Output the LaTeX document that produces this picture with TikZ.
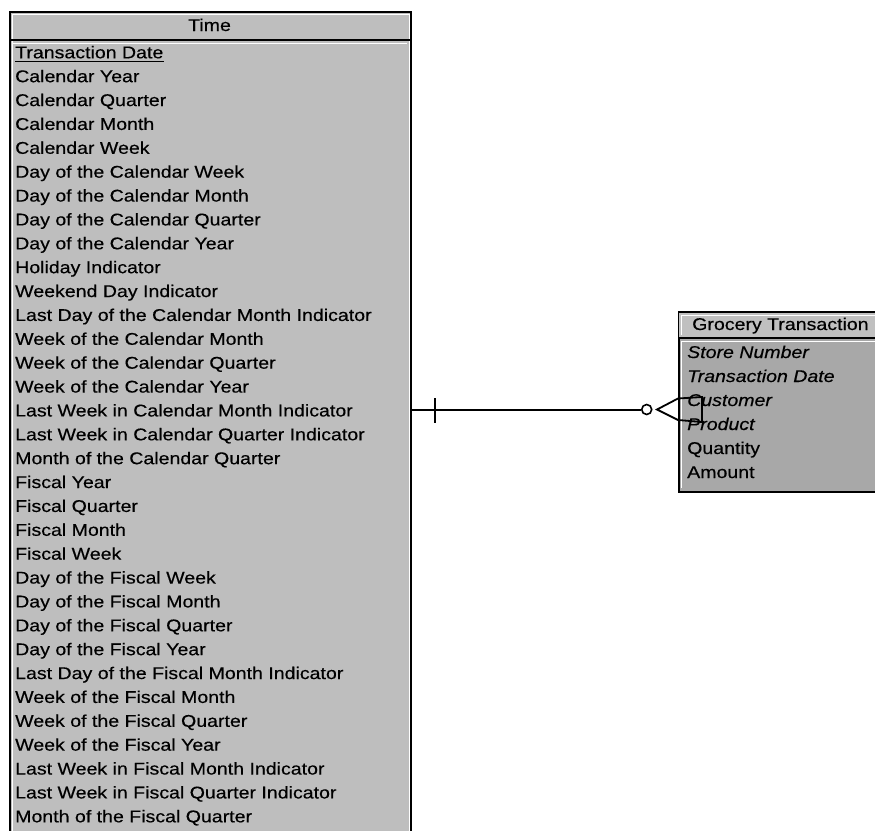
\documentclass[tikz,border=0pt]{standalone}
\usepackage{fontspec}
\setmainfont[FakeStretch=1.15,FakeBold=0.4]{Liberation Sans}
\definecolor{timefill}{RGB}{190,190,190}
\definecolor{headfill}{RGB}{192,192,192}
\definecolor{bodyfill}{RGB}{168,168,168}
\begin{document}
\begin{tikzpicture}[x=1pt,y=-1pt,
  entity/.style={draw=black, line width=2pt, rectangle, inner sep=0pt, anchor=north west},
  field/.style={anchor=base west, inner sep=0pt, font=\fontsize{17}{17}\selectfont},
  keyfield/.style={field, font=\fontsize{17}{17}\selectfont\itshape},
  title/.style={anchor=base, inner sep=0pt, font=\fontsize{17}{17}\selectfont},
  rel/.style={draw=black, line width=2pt},
  inner/.style={draw=white, line width=1pt}]
\useasboundingbox (0,0) rectangle (875,830);
\begin{scope}
\clip (0,0) rectangle (875,830);

% ---- Time entity (runs past the lower edge) ----
\node[entity, fill=timefill, minimum width=401pt, minimum height=900pt] (time) at (9,11) {};
\draw[inner] ([shift={(3,3)}]time.north west) rectangle ([shift={(-3,-3)}]time.south east);
\draw[line width=2.5pt] (9,40) -- (410,40);
\draw[inner] (12,43.5) -- (407,43.5);
\node[title] (timetitle) at (209.5,31) {Time};

\node[field] (td) at (15,58.3) {Transaction Date};
\draw[line width=1.2pt] ([yshift=-3.5pt]td.base west) -- ([yshift=-3.5pt]td.base east);
\foreach \label [count=\i] in {
  Calendar Year, Calendar Quarter, Calendar Month, Calendar Week,
  Day of the Calendar Week, Day of the Calendar Month, Day of the Calendar Quarter,
  Day of the Calendar Year, Holiday Indicator, Weekend Day Indicator,
  Last Day of the Calendar Month Indicator, Week of the Calendar Month,
  Week of the Calendar Quarter, Week of the Calendar Year,
  Last Week in Calendar Month Indicator, Last Week in Calendar Quarter Indicator,
  Month of the Calendar Quarter, Fiscal Year, Fiscal Quarter, Fiscal Month,
  Fiscal Week, Day of the Fiscal Week, Day of the Fiscal Month,
  Day of the Fiscal Quarter, Day of the Fiscal Year,
  Last Day of the Fiscal Month Indicator, Week of the Fiscal Month,
  Week of the Fiscal Quarter, Week of the Fiscal Year,
  Last Week in Fiscal Month Indicator, Last Week in Fiscal Quarter Indicator,
  Month of the Fiscal Quarter}
  \node[field] (tf\i) at (15,58.3+23.875*\i) {\label};

% ---- Grocery Transaction entity (runs past the right edge) ----
\node[entity, fill=bodyfill, minimum width=210pt, minimum height=179pt] (groc) at (678,312) {};
\fill[headfill] (679,313) rectangle (888,338);
\draw[line width=2pt] (678,312) -- (888,312);
\draw[line width=2.5pt] (678,338) -- (888,338);
\draw[inner] (681,315) -- (681,335);
\draw[inner] (681,315) -- (888,315);
\draw[inner] (681,341.5) -- (888,341.5);
\draw[inner] (681,341.5) -- (681,488);
\node[field] (groctitle) at (692,330) {Grocery Transaction};

\node[keyfield] (gf1) at (687,358) {Store Number};
\node[keyfield] (gf2) at (687,382) {Transaction Date};
\node[keyfield] (gf3) at (687,406) {Customer};
\node[keyfield] (gf4) at (687,430) {Product};
\node[field]    (gf5) at (687,454) {Quantity};
\node[field]    (gf6) at (687,478) {Amount};

% ---- Relationship: one Time to zero-or-many Grocery Transactions ----
\node[circle, draw=black, line width=1.6pt, fill=white, minimum size=10pt, inner sep=0pt] (circ) at (646.7,409.5) {};
\coordinate (foot) at (657,409.5);
\coordinate (tickTop) at (435,398);
\coordinate (tickBot) at (435,423);
\draw[rel] (time.east |- circ) -- (circ.west);
\draw[rel] (tickTop) -- (tickBot);
\draw[rel, line width=1.8pt, line join=miter]
  (foot) -- (groc.west |- 0,398.5) -- (702,397) -- (702,422) -- (groc.west |- 0,420) -- cycle;
\end{scope}
\end{tikzpicture}
\end{document}
